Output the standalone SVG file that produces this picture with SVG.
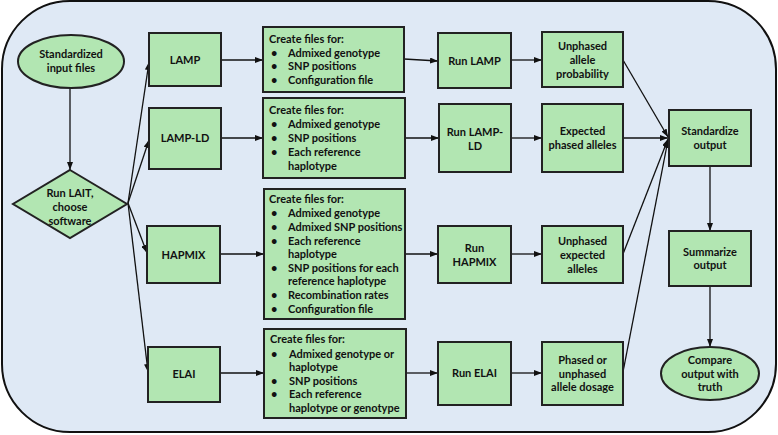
<svg xmlns="http://www.w3.org/2000/svg" width="778" height="435" viewBox="0 0 778 435">
<defs>
<marker id="ah" viewBox="0 0 8 6" refX="8" refY="3" markerWidth="8" markerHeight="6" markerUnits="userSpaceOnUse" orient="auto">
<path d="M0,0 L8,3 L0,6 Z" fill="#111"/>
</marker>
</defs>
<style>
.bg{fill:#dfe9f5;stroke:#111;stroke-width:2}
.n{fill:#b2e6b2;stroke:#222;stroke-width:2}
text{font-family:Lato,"Liberation Sans",sans-serif;font-weight:bold;font-size:11px;fill:#111}
.c{text-anchor:middle}
.e{stroke:#111;stroke-width:1.3;fill:none;marker-end:url(#ah)}
</style>
<rect class="bg" x="2" y="1" width="774" height="431" rx="68" ry="68"/>
<g id="connectors">
<line class="e" x1="70" y1="88" x2="70" y2="170"/>
<line class="e" x1="128" y1="203" x2="149" y2="62"/>
<line class="e" x1="128" y1="203" x2="149" y2="140"/>
<line class="e" x1="128" y1="203" x2="147" y2="253"/>
<line class="e" x1="128" y1="203" x2="148" y2="372"/>
<line class="e" x1="221" y1="60" x2="263" y2="60"/>
<line class="e" x1="221" y1="138" x2="263" y2="138"/>
<line class="e" x1="220" y1="254" x2="264" y2="254"/>
<line class="e" x1="220" y1="373" x2="264" y2="373"/>
<line class="e" x1="404" y1="59" x2="438" y2="61"/>
<line class="e" x1="405" y1="138" x2="439" y2="138"/>
<line class="e" x1="405" y1="254" x2="438" y2="254"/>
<line class="e" x1="406" y1="373" x2="438" y2="373"/>
<line class="e" x1="511" y1="60" x2="542" y2="60"/>
<line class="e" x1="511" y1="138" x2="542" y2="138"/>
<line class="e" x1="511" y1="254" x2="542" y2="254"/>
<line class="e" x1="511" y1="373" x2="542" y2="373"/>
<line class="e" x1="623" y1="60" x2="668" y2="137"/>
<line class="e" x1="623" y1="138" x2="668" y2="138"/>
<line class="e" x1="623" y1="254" x2="668" y2="139"/>
<line class="e" x1="623" y1="372" x2="668" y2="140"/>
<line class="e" x1="710" y1="166" x2="710" y2="231"/>
<line class="e" x1="710" y1="286" x2="710" y2="347"/>
</g>
<g id="start">
<ellipse class="n" cx="71" cy="61.5" rx="53" ry="26.5"/>
<text class="c" x="71" y="58">Standardized</text>
<text class="c" x="71" y="72">input files</text>
</g>
<g id="lait">
<polygon class="n" points="70,170 127,204 70,238 13,204"/>
<text class="c" x="70" y="197">Run LAIT,</text>
<text class="c" x="70" y="211">choose</text>
<text class="c" x="70" y="225">software</text>
</g>
<g id="lamp">
<rect class="n" x="149" y="33" width="72" height="53"/>
<text class="c" x="185" y="64">LAMP</text>
</g>
<g id="lampld">
<rect class="n" x="149" y="108" width="72" height="61"/>
<text class="c" x="185" y="142">LAMP-LD</text>
</g>
<g id="hapmix">
<rect class="n" x="147" y="226" width="73" height="57"/>
<text class="c" x="183.5" y="259">HAPMIX</text>
</g>
<g id="elai">
<rect class="n" x="148" y="347" width="72" height="55"/>
<text class="c" x="184" y="378">ELAI</text>
</g>
<g id="create-lamp">
<rect class="n" x="263" y="27" width="141" height="65"/>
<text x="269" y="43">Create files for:</text>
<text x="271" y="57">•</text><text x="288" y="57">Admixed genotype</text>
<text x="271" y="70">•</text><text x="288" y="70">SNP positions</text>
<text x="271" y="84">•</text><text x="288" y="84">Configuration file</text>
</g>
<g id="create-lampld">
<rect class="n" x="263" y="98" width="142" height="80"/>
<text x="269" y="114">Create files for:</text>
<text x="271" y="128">•</text><text x="288" y="128">Admixed genotype</text>
<text x="271" y="142">•</text><text x="288" y="142">SNP positions</text>
<text x="271" y="156">•</text><text x="288" y="156">Each reference</text>
<text x="288" y="170">haplotype</text>
</g>
<g id="create-hapmix">
<rect class="n" x="264" y="189" width="141" height="130"/>
<text x="269" y="203">Create files for:</text>
<text x="271" y="217">•</text><text x="288" y="217">Admixed genotype</text>
<text x="271" y="231">•</text><text x="288" y="231">Admixed SNP positions</text>
<text x="271" y="245">•</text><text x="288" y="245">Each reference</text>
<text x="288" y="258">haplotype</text>
<text x="271" y="272">•</text><text x="288" y="272">SNP positions for each</text>
<text x="288" y="285">reference haplotype</text>
<text x="271" y="299">•</text><text x="288" y="299">Recombination rates</text>
<text x="271" y="313">•</text><text x="288" y="313">Configuration file</text>
</g>
<g id="create-elai">
<rect class="n" x="264" y="329" width="142" height="89"/>
<text x="270" y="343">Create files for:</text>
<text x="271" y="358">•</text><text x="289" y="358">Admixed genotype or</text>
<text x="289" y="371">haplotype</text>
<text x="271" y="385">•</text><text x="289" y="385">SNP positions</text>
<text x="271" y="398">•</text><text x="289" y="398">Each reference</text>
<text x="289" y="412">haplotype or genotype</text>
</g>
<g id="run-lamp">
<rect class="n" x="438" y="33" width="73" height="55"/>
<text class="c" x="474.5" y="65">Run LAMP</text>
</g>
<g id="run-lampld">
<rect class="n" x="439" y="104" width="72" height="68"/>
<text class="c" x="475" y="136">Run LAMP-</text>
<text class="c" x="475" y="150">LD</text>
</g>
<g id="run-hapmix">
<rect class="n" x="438" y="226" width="73" height="57"/>
<text class="c" x="474.5" y="252">Run</text>
<text class="c" x="474.5" y="266">HAPMIX</text>
</g>
<g id="run-elai">
<rect class="n" x="438" y="342" width="73" height="63"/>
<text class="c" x="474.5" y="377">Run ELAI</text>
</g>
<g id="res-lamp">
<rect class="n" x="542" y="32" width="81" height="55"/>
<text class="c" x="582.5" y="50">Unphased</text>
<text class="c" x="582.5" y="64">allele</text>
<text class="c" x="582.5" y="78">probability</text>
</g>
<g id="res-lampld">
<rect class="n" x="542" y="104" width="81" height="68"/>
<text class="c" x="582.5" y="135">Expected</text>
<text class="c" x="582.5" y="149">phased alleles</text>
</g>
<g id="res-hapmix">
<rect class="n" x="542" y="226" width="81" height="57"/>
<text class="c" x="582.5" y="245">Unphased</text>
<text class="c" x="582.5" y="259">expected</text>
<text class="c" x="582.5" y="273">alleles</text>
</g>
<g id="res-elai">
<rect class="n" x="542" y="342" width="81" height="63"/>
<text class="c" x="582.5" y="364">Phased or</text>
<text class="c" x="582.5" y="378">unphased</text>
<text class="c" x="582.5" y="391">allele dosage</text>
</g>
<g id="standardize">
<rect class="n" x="669" y="110" width="82" height="56"/>
<text class="c" x="710" y="135">Standardize</text>
<text class="c" x="710" y="149">output</text>
</g>
<g id="summarize">
<rect class="n" x="669" y="231" width="82" height="55"/>
<text class="c" x="710" y="256">Summarize</text>
<text class="c" x="710" y="269">output</text>
</g>
<g id="compare">
<ellipse class="n" cx="710" cy="373.5" rx="49" ry="26.5"/>
<text class="c" x="710" y="364">Compare</text>
<text class="c" x="710" y="378">output with</text>
<text class="c" x="710" y="391">truth</text>
</g>
</svg>
